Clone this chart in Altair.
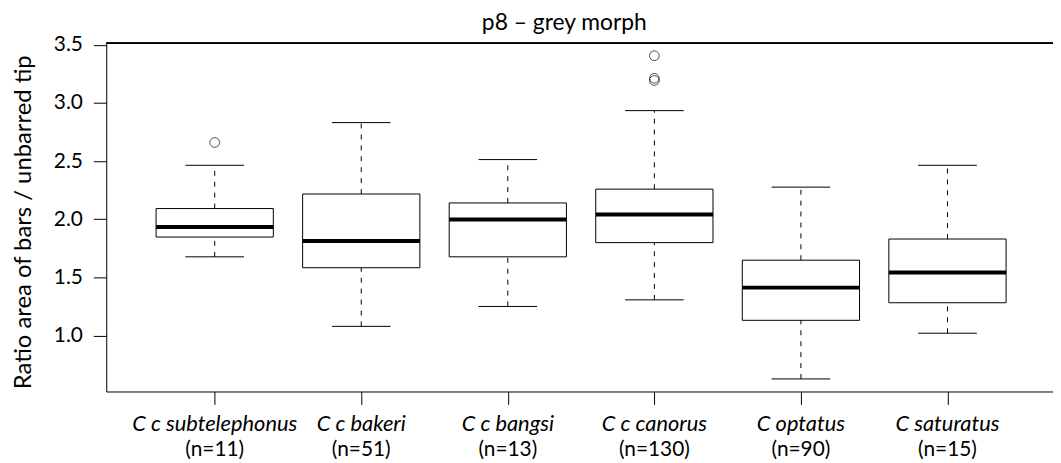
import altair as alt
import pandas as pd

FONT = "Lato"

chart_title = "p8 – grey morph"
species = ["C c subtelephonus", "C c bakeri", "C c bangsi", "C c canorus", "C optatus", "C saturatus"]
n_obs = [11, 51, 13, 130, 90, 15]
lower_whisker = [1.677, 1.079, 1.250, 1.307, 0.627, 1.020]
q1 = [1.847, 1.583, 1.677, 1.799, 1.131, 1.282]
median = [1.933, 1.813, 1.998, 2.041, 1.412, 1.543]
q3 = [2.092, 2.217, 2.140, 2.259, 1.648, 1.830]
upper_whisker = [2.464, 2.831, 2.513, 2.934, 2.276, 2.464]

outlier_group = [1, 4, 4, 4]
outlier_value = [2.660, 3.406, 3.212, 3.193]

y_ticks = [1.0, 1.5, 2.0, 2.5, 3.0, 3.5]

df = pd.DataFrame({
    "idx": list(range(1, len(species) + 1)),
    "species": species,
    "nlab": ["(n=%d)" % n for n in n_obs],
    "lo": lower_whisker,
    "q1": q1,
    "med": median,
    "q3": q3,
    "hi": upper_whisker,
})
out_df = pd.DataFrame({"idx": outlier_group, "value": outlier_value})
title_df = pd.DataFrame({"t": [chart_title]})

xs = alt.Scale(domain=[0.26, 6.72], nice=False, zero=False)
ys = alt.Scale(domain=[0.519, 3.514], nice=False, zero=False)

x_axis = alt.Axis(values=[1, 2, 3, 4, 5, 6], labels=False, tickSize=13, title=None,
                  grid=False, domainColor="black", tickColor="black")
y_axis = alt.Axis(values=y_ticks, format=".1f", tickSize=13, labelPadding=11,
                  grid=False, domainColor="black", tickColor="black",
                  title="Ratio area of bars / unbarred tip", titleX=-76, titleY=180,
                  titleBaseline="alphabetic", titleAngle=270)

W, H = 954, 351

base = alt.Chart(df).transform_calculate(
    xl="datum.idx - 0.4", xr="datum.idx + 0.4",
    cl="datum.idx - 0.2", cr="datum.idx + 0.2",
)

def X(f):
    return alt.X(f, type="quantitative", scale=xs, axis=x_axis)

def Y(f):
    return alt.Y(f, type="quantitative", scale=ys, axis=y_axis)

wh_up = base.mark_rule(color="black", strokeWidth=1, strokeDash=[5, 6]).encode(
    x=X("idx"), y=Y("q3"), y2="hi:Q")
wh_lo = base.mark_rule(color="black", strokeWidth=1, strokeDash=[5, 6]).encode(
    x=X("idx"), y=Y("lo"), y2="q1:Q")
cap_up = base.mark_rule(color="black", strokeWidth=1).encode(
    x=X("cl"), x2="cr:Q", y=Y("hi"))
cap_lo = base.mark_rule(color="black", strokeWidth=1).encode(
    x=X("cl"), x2="cr:Q", y=Y("lo"))
boxes = base.mark_rect(fill="white", stroke="black", strokeWidth=1).encode(
    x=X("xl"), x2="xr:Q", y=Y("q1"), y2="q3:Q")
meds = base.mark_rule(color="black", strokeWidth=4).encode(
    x=X("xl"), x2="xr:Q", y=Y("med"))
outs = alt.Chart(out_df).mark_point(shape="circle", filled=False, size=95,
                                    color="black", strokeWidth=1).encode(
    x=X("idx"), y=Y("value"))
lab1 = base.mark_text(font=FONT, fontSize=22, fontStyle="italic", baseline="alphabetic",
                      color="black").encode(x=X("idx"), y=alt.value(391), text="species:N")
lab2 = base.mark_text(font=FONT, fontSize=21, baseline="alphabetic",
                      color="black").encode(x=X("idx"), y=alt.value(416), text="nlab:N")
top_line = base.mark_rule(color="black", strokeWidth=1).encode(
    x=alt.value(0), x2=alt.value(W), y=alt.value(0))
title_txt = alt.Chart(title_df).mark_text(font=FONT, fontSize=23, baseline="alphabetic",
                                          color="black").encode(
    x=alt.value(461.6), y=alt.value(-13.4), text="t:N")

chart = alt.layer(wh_up, wh_lo, cap_up, cap_lo, boxes, meds, outs, lab1, lab2,
                  top_line, title_txt).properties(
    width=W, height=H,
    autosize=alt.AutoSizeParams(type="none"),
    padding={"left": 99, "top": 33.7, "right": 0, "bottom": 70},
).configure_axis(
    labelFont=FONT, labelFontSize=21, labelColor="black",
    titleFont=FONT, titleFontSize=24, titleFontWeight="normal", titleColor="black",
).configure_view(stroke=None)

chart.save("out.html", embed_options={"renderer": "svg", "actions": False})
